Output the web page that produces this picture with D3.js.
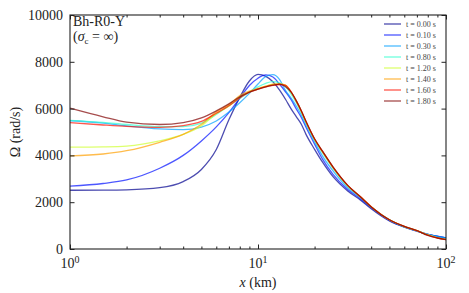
<!DOCTYPE html>
<html>
<head>
<meta charset="utf-8">
<script src="https://cdn.jsdelivr.net/npm/d3@7"></script>
<style>
  body { margin: 0; background: #fff; }
  .axis line { stroke: #222; }
  .axis path { display: none; }
</style>
</head>
<body>
<div id="chart"></div>
<script>
// --- data ---
const xs = [1, 1.5, 2, 3, 4, 5, 6, 7, 8, 9, 10, 11, 12, 13, 14, 15, 16, 17, 18, 20, 22, 25, 30, 35, 40, 50, 60, 70, 80, 90, 100];
const times = ["0.00", "0.10", "0.30", "0.80", "1.20", "1.40", "1.60", "1.80"];

const om000 = [2510, 2515, 2530, 2620, 2880, 3400, 4250, 5520, 6480, 7180, 7460, 7380, 7150, 6800, 6400, 5990, 5650, 5330, 4900, 4260, 3720, 3100, 2480, 2100, 1720, 1200, 930, 760, 620, 540, 470];
const om010 = [2690, 2800, 2950, 3450, 4000, 4620, 5220, 5830, 6450, 6990, 7300, 7437, 7350, 7050, 6720, 6380, 5980, 5620, 5200, 4480, 3850, 3200, 2540, 2150, 1760, 1220, 940, 770, 625, 545, 475];
const om030 = [5480, 5380, 5260, 5130, 5100, 5210, 5470, 5850, 6250, 6650, 7050, 7370, 7450, 7250, 6780, 6450, 6100, 5720, 5300, 4580, 3980, 3350, 2620, 2200, 1790, 1240, 950, 775, 620, 540, 470];
const om080 = [5500, 5410, 5320, 5230, 5230, 5380, 5750, 6120, 6430, 6710, 6930, 7080, 7150, 7100, 6950, 6620, 6250, 5820, 5380, 4640, 4120, 3460, 2680, 2220, 1800, 1250, 960, 780, 610, 500, 430];
const om120 = [4350, 4365, 4400, 4620, 4900, 5260, 5780, 6100, 6500, 6700, 6840, 6950, 7030, 7060, 6990, 6690, 6300, 5870, 5420, 4680, 4160, 3490, 2700, 2230, 1810, 1250, 960, 785, 600, 480, 410];
const om140 = [3980, 4060, 4200, 4560, 4900, 5330, 5860, 6170, 6560, 6750, 6860, 6960, 7040, 7060, 7000, 6710, 6310, 5890, 5440, 4690, 4170, 3500, 2710, 2235, 1810, 1250, 965, 785, 600, 475, 405];
const om160 = [5400, 5300, 5240, 5200, 5270, 5450, 5800, 6120, 6460, 6700, 6830, 6930, 6990, 7030, 6990, 6720, 6320, 5900, 5450, 4700, 4180, 3510, 2720, 2240, 1810, 1250, 965, 785, 590, 470, 400];
const om180 = [6020, 5650, 5420, 5320, 5400, 5600, 5900, 6200, 6500, 6700, 6830, 6930, 7000, 7050, 6940, 6700, 6330, 5910, 5460, 4710, 4190, 3520, 2720, 2235, 1800, 1250, 965, 790, 580, 470, 400];

const series = [om000, om010, om030, om080, om120, om140, om160, om180];
const colors = ["#00008f", "#0010ff", "#00a0ff", "#30ffcf", "#cfff30", "#ffa000", "#ff1000", "#800000"];

const xMajor = [1, 10, 100];
const xMinor = [2, 3, 4, 5, 6, 7, 8, 9, 20, 30, 40, 50, 60, 70, 80, 90];
const yTicks = [0, 2000, 4000, 6000, 8000, 10000];

// --- layout ---
const W = 469, H = 293;
const mLeft = 70, mRight = 446, mTop = 15, mBottom = 249;
const FONT = "Liberation Serif";
const INK = "#222";

const svg = d3.select("#chart").append("svg")
    .attr("width", W).attr("height", H)
    .attr("font-family", FONT);

const x = d3.scaleLog().domain([1, 100]).range([mLeft, mRight]);
const y = d3.scaleLinear().domain([0, 10000]).range([mBottom, mTop]);

// --- curves ---
const line = d3.line()
    .x(d => x(d[0]))
    .y(d => y(d[1]))
    .curve(d3.curveMonotoneX);

const plot = svg.append("g");
series.forEach((s, i) => {
    plot.append("path")
        .attr("d", line(xs.map((v, k) => [v, s[k]])))
        .attr("fill", "none")
        .attr("stroke", colors[i])
        .attr("stroke-opacity", 0.7)
        .attr("stroke-width", 1.3);
});

// --- axes (ticks inward) ---
function axisG(tr, ax) {
    return svg.append("g").attr("class", "axis")
        .attr("transform", tr)
        .call(ax)
        .attr("font-family", FONT)
        .attr("font-size", 14);
}
const yl = axisG(`translate(${mLeft},0)`,
    d3.axisLeft(y).tickValues(yTicks).tickSizeInner(-4.5).tickSizeOuter(0).tickPadding(7).tickFormat(d3.format("d")));
yl.selectAll("text").attr("fill", INK);
axisG(`translate(${mRight},0)`,
    d3.axisRight(y).tickValues(yTicks).tickSizeInner(-4.5).tickSizeOuter(0).tickFormat(""));
axisG(`translate(0,${mBottom})`,
    d3.axisBottom(x).tickValues(xMajor).tickSizeInner(-4.5).tickSizeOuter(0).tickFormat(""));
axisG(`translate(0,${mBottom})`,
    d3.axisBottom(x).tickValues(xMinor).tickSizeInner(-2.5).tickSizeOuter(0).tickFormat(""));
axisG(`translate(0,${mTop})`,
    d3.axisTop(x).tickValues(xMajor).tickSizeInner(-4.5).tickSizeOuter(0).tickFormat(""));
axisG(`translate(0,${mTop})`,
    d3.axisTop(x).tickValues(xMinor).tickSizeInner(-2.5).tickSizeOuter(0).tickFormat(""));

// x tick labels 10^n
xMajor.forEach(v => {
    const t = svg.append("text")
        .attr("x", x(v)).attr("y", 268)
        .attr("text-anchor", "middle")
        .attr("font-family", FONT)
        .attr("font-size", 14).attr("fill", INK);
    t.append("tspan").text("10");
    t.append("tspan").attr("dy", -5).attr("font-size", 10).text(Math.round(Math.log10(v)));
});

// frame
svg.append("rect")
    .attr("x", mLeft).attr("y", mTop)
    .attr("width", mRight - mLeft).attr("height", mBottom - mTop)
    .attr("fill", "none").attr("stroke", INK).attr("stroke-width", 1.1);

// axis titles
const xl = svg.append("text")
    .attr("x", (mLeft + mRight) / 2).attr("y", 287)
    .attr("text-anchor", "middle").attr("font-family", FONT).attr("font-size", 14).attr("fill", INK);
xl.append("tspan").attr("font-style", "italic").text("x");
xl.append("tspan").text(" (km)");

svg.append("text")
    .attr("transform", `translate(20,${(mTop + mBottom) / 2}) rotate(-90)`)
    .attr("text-anchor", "middle").attr("font-family", FONT).attr("font-size", 14).attr("fill", INK)
    .text("Ω (rad/s)");

// model label
svg.append("text").attr("x", 73).attr("y", 26)
    .attr("font-family", FONT).attr("font-size", 14).attr("fill", INK).text("Bh-R0-Y");
const lab = svg.append("text").attr("x", 73).attr("y", 41)
    .attr("font-family", FONT).attr("font-size", 14).attr("fill", INK);
lab.append("tspan").text("(");
lab.append("tspan").attr("font-style", "italic").text("σ");
lab.append("tspan").attr("font-size", 9).attr("dy", 3).text("c");
lab.append("tspan").attr("dy", -3).text(" = ∞)");

// legend
const lg = svg.append("g").attr("transform", "translate(384,24)");
times.forEach((t, i) => {
    const row = lg.append("g").attr("transform", `translate(0,${i * 11})`);
    row.append("line").attr("x1", 0).attr("x2", 17).attr("y1", 0).attr("y2", 0)
        .attr("stroke", colors[i]).attr("stroke-opacity", 0.7).attr("stroke-width", 1.3);
    row.append("text").attr("x", 22).attr("y", 3)
        .attr("font-family", FONT).attr("font-size", 8).attr("fill", "#444")
        .text(`t = ${t} s`);
});
</script>
</body>
</html>
